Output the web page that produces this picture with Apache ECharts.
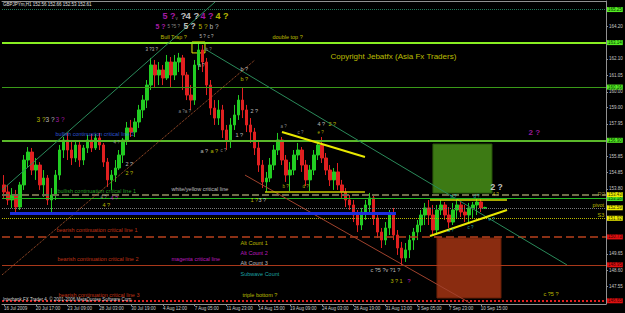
<!DOCTYPE html>
<html><head><meta charset="utf-8">
<script src="https://cdn.jsdelivr.net/npm/echarts@6/dist/echarts.min.js"></script>
<style>html,body{margin:0;padding:0;background:#000;}#c{width:625px;height:313px;}</style>
</head><body><div id="c"></div>
<script>
const symbolTitle = 'GBPJPYm,H1 152.56 152.66 152.53 152.61';
const creditText = 'Interbank FX Trader 4, \u00a9 2001-2006 MetaQuotes Software Corp.';
const timeLabels = ['16 Jul 2009','20 Jul 17:00','23 Jul 09:00','28 Jul 03:00','30 Jul 19:00','4 Aug 12:00','7 Aug 05:00','11 Aug 23:00','14 Aug 15:00','19 Aug 09:00','24 Aug 03:00','26 Aug 19:00','31 Aug 13:00','3 Sep 05:00','7 Sep 23:00','10 Sep 15:00'];
const priceTicks = [164.20,162.10,161.05,160.00,159.00,157.95,155.85,154.85,153.80,149.65,148.60,147.55];

const opens = [154.05,153.60,153.09,153.41,152.64,154.05,155.64,156.15,155.00,155.32,
154.05,154.49,153.09,153.41,154.68,156.28,156.92,156.28,155.77,156.60,
155.64,156.41,156.92,156.41,157.05,156.60,155.51,154.37,154.68,155.13,
155.96,156.92,157.69,157.43,158.07,158.84,159.47,160.43,161.71,161.07,
161.39,160.88,161.90,161.07,161.90,162.16,161.07,159.79,159.47,161.71,
162.67,161.90,160.43,158.96,158.32,158.84,157.56,156.92,157.88,158.52,
159.47,158.84,157.88,157.43,156.41,155.32,154.24,154.49,155.32,156.28,
156.92,155.64,154.68,155.00,155.96,156.28,155.32,154.37,155.00,155.96,
156.60,155.77,155.00,154.37,154.88,154.05,153.60,153.09,152.77,152.13,
151.49,152.32,152.77,153.22,151.94,151.04,150.53,151.30,152.13,150.85,
150.02,149.38,149.90,150.53,151.04,151.49,152.13,152.58,152.13,151.17,
152.45,152.77,152.13,151.68,152.45,152.77,152.32,152.13,152.58,152.77,
152.96,152.56];
const closes = [153.60,153.09,153.41,152.64,154.05,155.64,156.15,155.00,155.32,154.05,
154.49,153.09,153.41,154.68,156.28,156.92,156.28,155.77,156.60,155.64,
156.41,156.92,156.41,157.05,156.60,155.51,154.37,154.68,155.13,155.96,
156.92,157.69,157.43,158.07,158.84,159.47,160.43,161.71,161.07,161.39,
160.88,161.90,161.07,161.90,162.16,161.07,159.79,159.47,161.71,162.67,
161.90,160.43,158.96,158.32,158.84,157.56,156.92,157.88,158.52,159.47,
158.84,157.88,157.43,156.41,155.32,154.24,154.49,155.32,156.28,156.92,
155.64,154.68,155.00,155.96,156.28,155.32,154.37,155.00,155.96,156.60,
155.77,155.00,154.37,154.88,154.05,153.60,153.09,152.77,152.13,151.49,
152.32,152.77,153.22,151.94,151.04,150.53,151.30,152.13,150.85,150.02,
149.38,149.90,150.53,151.04,151.49,152.13,152.58,152.13,151.17,152.45,
152.77,152.13,151.68,152.45,152.77,152.32,152.13,152.58,152.77,152.96,
152.58,152.61];
const lows = [153.22,152.77,152.58,152.32,152.45,153.73,155.13,154.68,154.37,153.73,
153.28,152.77,152.32,153.09,154.37,155.77,155.64,155.32,155.51,155.20,
155.32,156.09,156.15,156.28,156.28,155.20,153.92,153.73,154.24,155.00,
155.45,156.60,157.11,157.11,157.69,158.32,158.96,160.11,160.30,160.43,
160.43,160.75,160.30,160.75,161.26,160.11,159.47,158.84,159.16,161.39,
161.26,159.79,158.52,157.88,157.88,157.05,156.28,156.41,157.56,158.20,
158.32,157.43,156.73,155.96,154.88,153.85,153.60,154.24,155.00,155.96,
155.32,154.24,153.66,154.68,155.64,154.88,153.98,153.66,154.68,155.64,
155.45,154.68,153.98,153.73,153.73,153.22,152.64,152.45,151.68,151.04,
151.17,151.81,152.32,151.49,150.66,150.02,150.21,150.85,150.53,149.58,
148.94,149.13,149.38,149.90,150.53,151.04,151.49,151.49,150.79,150.85,
152.13,151.81,151.30,151.49,151.94,152.00,151.68,151.68,151.94,152.13,
152.32,152.53];
const highs = [154.68,154.05,153.85,153.73,154.24,155.96,156.47,156.41,155.77,155.51,
155.00,154.68,153.85,155.00,156.60,157.11,157.37,156.79,156.92,156.79,
156.60,157.24,157.30,157.30,157.37,156.73,155.77,155.00,155.64,156.28,
157.05,158.07,158.20,158.32,159.16,159.79,160.75,162.16,162.03,161.90,
161.71,162.35,162.22,162.35,162.48,162.35,161.26,160.43,162.03,163.11,
162.99,162.16,160.75,159.47,159.47,159.16,157.88,158.32,159.16,159.79,
160.30,159.16,158.32,157.69,156.79,155.64,154.88,155.77,156.60,157.37,
157.11,155.96,155.51,156.28,156.73,156.47,155.64,155.32,156.28,156.92,
157.11,156.09,155.32,155.13,155.45,154.37,153.85,153.41,153.09,152.45,
152.58,153.09,153.54,153.41,152.26,151.30,151.68,152.45,152.58,151.17,
150.41,150.34,150.85,151.30,151.81,152.45,152.90,153.09,152.77,152.77,
153.09,152.96,152.64,152.90,153.09,152.96,152.77,152.90,152.96,153.15,
153.22,152.66];

// horizontal price levels (price, label text)
const levelPrices = [165.25,163.14,160.30,156.90,153.18,153.43,152.59,151.92,150.73,148.95,146.65];
const levelTags = ['165.25','163.14','160.16','156.90','153.18','153.43','152.59','151.92','150.73','148.95','146.65'];

// trend lines / boxes in data space: [barIndex, price]
const trendLines = {
  tealUp:   [[0,153.73],[53.6,165.73]],
  tealDown: [[51.08,162.73],[142.17,148.94]],
  brownUp:  [[0,148.30],[63.66,162.03]],
  brownDown:[[61.15,154.68],[117.77,146.51]],
  yelDesc:  [[70.46,157.43],[91.34,155.83]],
  yelFlat1: [[66.18,153.60],[91.34,153.60]],
  yelFlat2: [[107.70,153.09],[127.08,153.09]],
  yelAsc:   [[107.70,150.79],[127.08,152.45]],
  blue:     [[2.01,152.23],[99.15,152.23]]
};
const boxes = {
  trap:  [[47.81,163.18],[51.08,162.48]],
  green: [[108.45,156.66],[123.30,153.53]],
  red:   [[109.46,150.66],[125.57,146.83]]
};

// annotations: [barIndex, price, text, styleKey]
const notes = [
 [40.26,164.84,'5 ?','Mb'],[43.53,164.65,'v','s'],[44.79,164.84,'?','Wb'],[46.05,164.90,'4 ?','Wb'],
 [49.82,164.84,'4 ?','Mb'],[53.60,164.84,'4 ?','Yb'],
 [38.50,164.20,'5 ?','m7'],[41.52,164.14,'5 ?5 ?','s'],[45.55,164.20,'5 ?','w8'],[49.32,164.14,'5 ?','y6'],[52.10,164.14,'b ?','w6'],
 [49.57,163.56,'5 ?','sw'],[51.58,163.56,'c ?','sw'],
 [39.76,163.50,'Bull Trap ?','y'],[67.94,163.50,'double top ?','y'],
 [82.54,162.28,'Copyright Jebatfx (Asia Fx Traders)','cp'],
 [35.98,162.67,'3 ?3 ?','sw'],[51.08,162.67,'b ?','s'],[49.32,161.65,'a ?','sw'],
 [59.89,161.45,'b ?','w'],[59.89,160.82,'b ?','y'],[62.41,158.77,'2 ?','w'],[44.29,158.71,'a ?a ?','s'],
 [8.56,158.26,'3 ?','y6'],[10.82,158.26,'3 ?','w6'],[13.34,158.26,'3 ?','m6'],
 [13.34,157.30,'bullish continuation critical line 2','b'],
 [27.93,156.79,'4 ?','s'],[58.63,157.24,'1 ?','w'],[69.95,157.81,'a ?','s'],[74.23,157.37,'c ?','s'],
 [79.27,157.94,'4 ?','w'],[82.03,157.94,'2 ?','y'],[79.27,157.37,'e ?','sy'],
 [49.82,156.22,'a ?','w'],[52.34,156.22,'a ?','y'],[54.86,156.22,'c ?','s'],
 [30.95,155.39,'2 ?','w'],[30.95,154.81,'2 ?','y'],
 [70.46,153.92,'b ?','sy'],[75.49,153.92,'d ?','sy'],
 [42.53,153.79,'white/yellow critical line','w'],
 [13.84,153.66,'bullish continuation critical line 1','g'],
 [62.41,153.09,'1 ?','y'],[64.42,153.09,'3 ?','w'],
 [24.66,153.25,'4 ?','s'],[27.18,153.22,'4 ?','m'],[25.16,152.77,'4 ?','y'],
 [132.36,157.37,'2 ?','m8'],[122.80,153.92,'2 ?','w8'],[123.30,153.41,'4 ?','sy'],
 [112.73,153.34,'b ?','sc'],[118.52,153.34,'d ?','sc'],
 [111.98,151.11,'a ?','sc'],[117.01,151.36,'c ?','sc'],[122.30,151.81,'e ?','sc'],
 [13.59,151.17,'bearish continuation critical line 1','r'],
 [13.84,149.32,'bearish continuation critical line 2','r'],
 [42.53,149.32,'magenta critical line','m'],
 [14.09,147.02,'bearish continuation critical line 3','r'],
 [59.89,150.34,'Alt Count 1','y'],[59.89,149.70,'Alt Count 2','m'],[59.89,149.06,'Alt Count 3','w'],[59.89,148.36,'Subwave Count','c'],
 [92.60,148.62,'c ?5 ?v ?1 ?','w'],[97.63,147.91,'3 ?','y'],[99.90,147.91,'1','y'],[101.91,147.91,'?','m'],
 [60.39,147.02,'triple bottom ?','y'],[136.14,147.08,'c ?5 ?','y'],
 [149.73,153.47,'R3','r3'],[148.47,152.77,'pivot','y'],[149.73,152.13,'S3','y']
];

const FONT = 'Liberation Sans, Arial, sans-serif';
const BARS = 152;
const noteStyles = {
  s:{color:'#a8a8a8',fontSize:4.5}, sw:{color:'#e0e0e0',fontSize:4.5}, sy:{color:'#dddd00',fontSize:4.5}, sc:{color:'#22cccc',fontSize:4.5},
  w:{color:'#e4e4e4',fontSize:5.5}, y:{color:'#e0e000',fontSize:5.5}, m:{color:'#e020e0',fontSize:5.5}, c:{color:'#22cccc',fontSize:5.5},
  r:{color:'#e8401c',fontSize:5.5}, b:{color:'#3a6cff',fontSize:5.5}, g:{color:'#33cc33',fontSize:5.5},
  w6:{color:'#e4e4e4',fontSize:6.5}, y6:{color:'#e0e000',fontSize:6.5}, m6:{color:'#d020d0',fontSize:6.5},
  Mb:{color:'#d020d0',fontSize:9,fontWeight:'bold'}, Wb:{color:'#f0f0f0',fontSize:9.5,fontWeight:'bold'}, Yb:{color:'#e6e600',fontSize:9,fontWeight:'bold'},
  m7:{color:'#d020d0',fontSize:7,fontWeight:'bold'}, w8:{color:'#f0f0f0',fontSize:8.5,fontWeight:'bold'}, m8:{color:'#c020c0',fontSize:8,fontWeight:'bold'},
  cp:{color:'#e8e800',fontSize:8}, r3:{color:'#b0a040',fontSize:6}
};
const levelStyles = [
  {line:{color:'#1f7a5a',type:'dotted',width:1}, bg:'#55ee22', fg:'#003300'},
  {line:{color:'#88ee22',type:'solid',width:2}, bg:'#55ee22', fg:'#003300'},
  {line:{color:'#3a9a18',type:'solid',width:1}, bg:'#55ee22', fg:'#003300'},
  {line:{color:'#5ab82a',type:'solid',width:2}, bg:'#55ee22', fg:'#003300'},
  {line:{color:'#22bb22',type:'solid',width:1}, bg:'#44dd22', fg:'#003300'},
  {line:{color:'#6e6e48',type:[7,3],width:2}, bg:'#eeee00', fg:'#333300'},
  {line:{color:'#7a7a7a',type:'dotted',width:1}, bg:'#eeee00', fg:'#333300'},
  {line:{color:'#b8b800',type:'dotted',width:1}, bg:'#eeee00', fg:'#333300'},
  {line:{color:'#b8401c',type:[8,4],width:1.5}, bg:'#e01010', fg:'#400000'},
  {line:{color:'#a8381a',type:'solid',width:1}, bg:'#e01010', fg:'#400000'},
  {line:{color:'#e02020',type:'dotted',width:2}, bg:'#e01010', fg:'#400000'}
];
const trendStyles = {
  tealUp:{color:'#2a8a5a',width:1,type:'solid'}, tealDown:{color:'#2a8a5a',width:1,type:'solid'},
  brownUp:{color:'#b85a30',width:1,type:'dotted'}, brownDown:{color:'#a0422d',width:1,type:'solid'},
  yelDesc:{color:'#e8e800',width:2,type:'solid'}, yelFlat1:{color:'#c8c800',width:1.5,type:'solid'},
  yelFlat2:{color:'#e0e000',width:1.5,type:'solid'}, yelAsc:{color:'#e8e800',width:2,type:'solid'},
  blue:{color:'#1c2ee0',width:3,type:'solid'}
};
const boxStyles = {
  trap:{color:'rgba(0,0,0,0)',borderColor:'#e8e800',borderWidth:1},
  green:{color:'#3d7a14',borderColor:'#2a5a0a',borderWidth:1},
  red:{color:'#8a2c10',borderColor:'#6a2008',borderWidth:1}
};

const categories = [];
for (let i = 0; i < BARS; i++) categories.push(i % 8 === 0 && timeLabels[i/8] ? timeLabels[i/8] : '');
const candleData = [];
for (let i = 0; i < BARS; i++) candleData.push(i < opens.length ? [opens[i], closes[i], lows[i], highs[i]] : '-');

const levelLines = levelPrices.map((v, k) => ({
  yAxis: v,
  lineStyle: levelStyles[k].line,
  label: {show:true, position:'end', distance:1, formatter: levelTags[k], backgroundColor: levelStyles[k].bg,
          color: levelStyles[k].fg, fontSize:4.5, fontFamily:FONT, padding:[0,1,0,1], lineHeight:5}
}));
const trendItems = Object.keys(trendLines).map(k => [
  {coord: trendLines[k][0], lineStyle: trendStyles[k]},
  {coord: trendLines[k][1]}
]);
const boxItems = Object.keys(boxes).map(k => [
  {coord: boxes[k][0], itemStyle: boxStyles[k]},
  {coord: boxes[k][1]}
]);
const noteData = notes.map(n => ({
  value: [n[0], n[1]],
  label: Object.assign({show:true, formatter: n[2]}, noteStyles[n[3]])
}));

const chart = echarts.init(document.getElementById('c'), null, {renderer:'svg', width:625, height:313});
chart.setOption({
  animation: false,
  backgroundColor: '#000',
  textStyle: {fontFamily: FONT},
  title: [
    {text: symbolTitle, left: 3, top: 2, padding: 0, textStyle:{color:'#e0e0e0', fontSize:4.5, fontWeight:'normal', fontFamily:FONT}},
    {text: creditText, left: 3, top: 297, padding: 0, textStyle:{color:'#d0d0d0', fontSize:4.5, fontWeight:'normal', fontFamily:FONT}}
  ],
  grid: {left: 2, right: 19, top: 1, bottom: 9, outerBoundsMode: 'none', containLabel: false},
  xAxis: [
    {type:'category', data: categories, boundaryGap: true, position:'bottom',
     axisLine:{show:true, lineStyle:{color:'#909090'}},
     axisTick:{show:true, alignWithLabel:true, length:2, interval:(i)=> i % 8 === 0 && i <= 120, lineStyle:{color:'#909090'}},
     axisLabel:{interval:(i)=> i % 8 === 0, align:'left', color:'#c8c8c8', fontSize:4.5, margin:2, fontFamily:FONT},
     splitLine:{show:false}},
    {type:'value', min:0, max:BARS, position:'top', show:true,
     axisLine:{show:true, onZero:false, lineStyle:{color:'#909090'}},
     axisTick:{show:false}, axisLabel:{show:false}, splitLine:{show:false}}
  ],
  yAxis: {type:'value', position:'right', min:146.445, max:165.797, scale:true,
    axisLine:{show:true, onZero:false, lineStyle:{color:'#909090'}},
    splitLine:{show:false},
    axisTick:{show:true, customValues: priceTicks, length:2, lineStyle:{color:'#909090'}},
    axisLabel:{customValues: priceTicks, color:'#c8c8c8', fontSize:4.5, margin:3, fontFamily:FONT, formatter:(v)=> v.toFixed(2)}
  },
  series: [
    {type:'candlestick', xAxisIndex:0, yAxisIndex:0, data: candleData, barWidth: 3,
     itemStyle:{color:'#22cc22', color0:'#e02020', borderColor:'#22cc22', borderColor0:'#e02020', borderWidth:1},
     markLine:{silent:true, symbol:['none','none'], data: levelLines}},
    {type:'scatter', xAxisIndex:1, yAxisIndex:0, data: noteData, symbolSize: 1, z: 5,
     itemStyle:{color:'rgba(0,0,0,0)'},
     label:{show:true, position:'right', distance:0, fontFamily:FONT},
     markLine:{silent:true, symbol:['none','none'], label:{show:false}, data: trendItems},
     markArea:{silent:true, label:{show:false}, data: boxItems}}
  ]
});
</script></body></html>
